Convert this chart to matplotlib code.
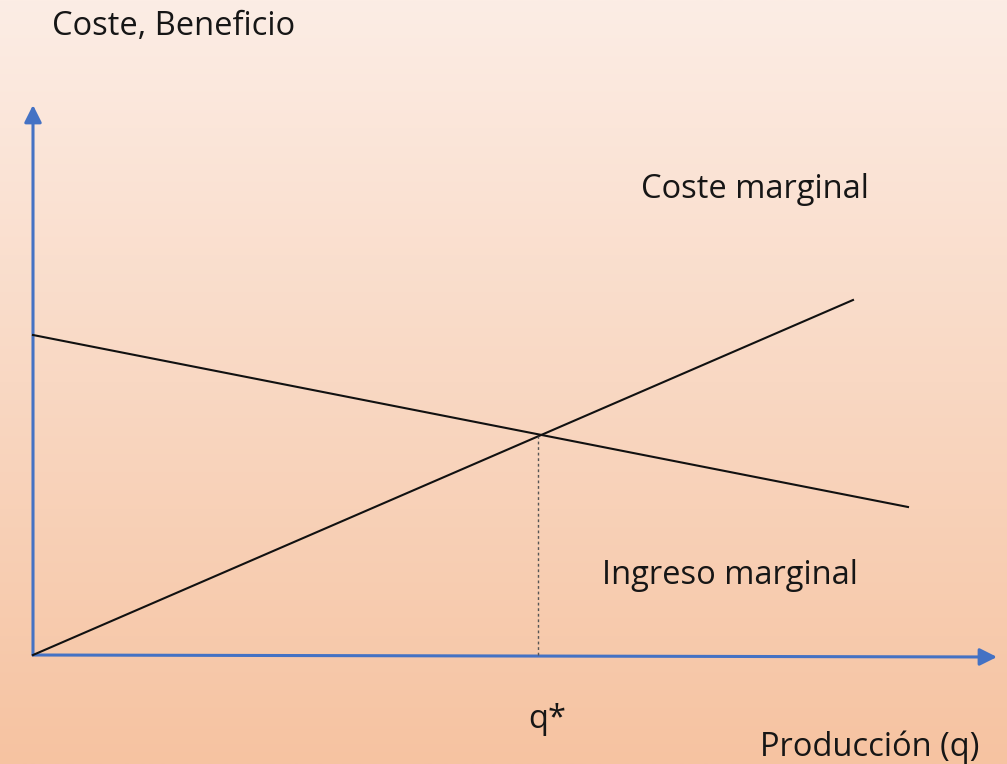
#!/usr/bin/env python3
"""Marginal cost vs marginal revenue diagram (profit-maximising output q*)."""

import matplotlib

matplotlib.use("Agg")
import matplotlib.pyplot as plt
import numpy as np

# data (arbitrary units; origin at the axes' corner)
q_cm = [0.0, 82.0]          # Coste marginal
v_cm = [0.0, 35.5]
q_im = [0.0, 87.5]          # Ingreso marginal
v_im = [32.0, 14.8]
q_star = 50.5
v_star = 21.9
x_axis_end = 96.4
y_axis_end = 55.0

AXIS_BLUE = "#4472C4"
FONT = ["Open Sans", "DejaVu Sans"]
FS = 23.5

fig = plt.figure(figsize=(10.07, 7.64), dpi=100)
ax = fig.add_axes([0, 0, 1, 1])
ax.set_xlim(-3.3, 97.4)
ax.set_ylim(-10.9, 65.5)
ax.axis("off")

# peach vertical gradient background
top = np.array([252, 237, 229]) / 255
bottom = np.array([246, 195, 161]) / 255
t = np.linspace(0, 1, 256)[:, None]
grad = top * (1 - t) + bottom * t
ax.imshow(grad[:, None, :], extent=(-3.3, 97.4, -10.9, 65.5), aspect="auto",
          zorder=0)

# axes with arrow heads
arrow = dict(arrowstyle="-|>", color=AXIS_BLUE, lw=2.2, mutation_scale=26,
             shrinkA=0, shrinkB=0)
ax.annotate("", xy=(x_axis_end, -0.2), xytext=(0, 0), arrowprops=arrow, zorder=2)
ax.annotate("", xy=(0, y_axis_end), xytext=(0, 0), arrowprops=arrow, zorder=2)

# curves
ax.plot(q_cm, v_cm, color="#111111", lw=1.5, zorder=3)
ax.plot(q_im, v_im, color="#111111", lw=1.5, zorder=3)
ax.plot([q_star, q_star], [0, v_star], color="#555555", lw=1.0,
        linestyle=(0, (2, 2)), zorder=3)

# labels
ax.text(1.9, 62.9, "Coste, Beneficio", fontsize=FS, family=FONT,
        color="#161616", va="center", ha="left")
ax.text(60.8, 46.5, "Coste marginal", fontsize=FS, family=FONT,
        color="#161616", va="center", ha="left")
ax.text(56.9, 7.9, "Ingreso marginal", fontsize=FS, family=FONT,
        color="#161616", va="center", ha="left")
ax.text(51.4, -6.4, "q*", fontsize=FS, family=FONT,
        color="#161616", va="center", ha="center")
ax.text(72.7, -9.2, "Producción (q)", fontsize=FS, family=FONT,
        color="#161616", va="center", ha="left")

fig.savefig("out.png", dpi=100)
